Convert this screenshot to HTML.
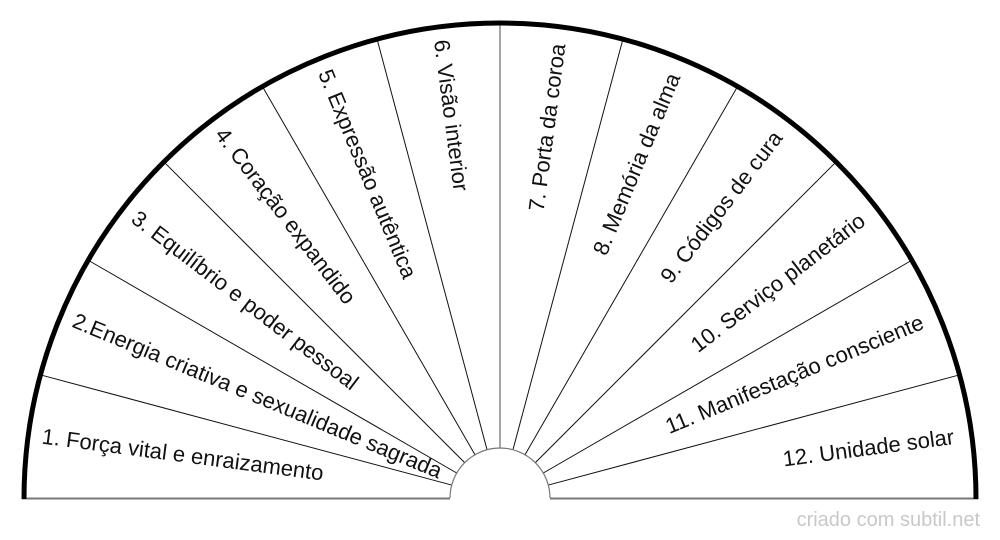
<!DOCTYPE html>
<html><head><meta charset="utf-8"><style>
html,body{margin:0;padding:0;background:#fff;}
svg{display:block;}
text{font-family:"Liberation Sans",sans-serif;font-size:22px;fill:#111;}
</style></head><body>
<svg width="1000" height="540" viewBox="0 0 1000 540" xmlns="http://www.w3.org/2000/svg">
<g id="g"></g>
<line x1="22" y1="498.5" x2="450" y2="498.5" stroke="#777" stroke-width="2"/>
<line x1="550" y1="498.5" x2="978" y2="498.5" stroke="#777" stroke-width="2"/>
<path d="M450,498 A50,50 0 0 1 550,498" fill="none" stroke="#777" stroke-width="1.2"/>
<line x1="500" y1="448" x2="500" y2="24" stroke="#888" stroke-width="1.5"/>
<path d="M24,499 A476,476 0 0 1 976,499" fill="none" stroke="#000" stroke-width="5"/>
<text x="980" y="526" text-anchor="end" style="fill:#c8c8c8;font-size:20px">criado com subtil.net</text>
</svg>
<script>
var g=document.getElementById('g'),cx=500,cy=498;
var labels=["1. Força vital e enraizamento","2.Energia criativa e sexualidade sagrada","3. Equilíbrio e poder pessoal","4. Coração expandido","5. Expressão autêntica","6. Visão interior","7. Porta da coroa","8. Memória da alma","9. Códigos de cura","10. Serviço planetário","11. Manifestação consciente","12. Unidade solar"];
var h='';
for(var k=1;k<12;k++){if(k==6)continue;var a=(180-k*15)*Math.PI/180;
h+='<line x1="'+(cx+50*Math.cos(a))+'" y1="'+(cy-50*Math.sin(a))+'" x2="'+(cx+474*Math.cos(a))+'" y2="'+(cy-474*Math.sin(a))+'" stroke="#111" stroke-width="1"/>';}
for(var i=0;i<12;i++){var t=180-(i+0.5)*15,a=t*Math.PI/180,r=(i<6?462:458);
var x=cx+r*Math.cos(a),y=cy-r*Math.sin(a);
if(i<6){h+='<text x="'+x+'" y="'+y+'" dominant-baseline="middle" transform="rotate('+(180-t)+' '+x+' '+y+')">'+labels[i]+'</text>';}
else{h+='<text x="'+x+'" y="'+y+'" text-anchor="end" dominant-baseline="middle" transform="rotate('+(-t)+' '+x+' '+y+')">'+labels[i]+'</text>';}}
g.innerHTML=h;
</script>
</body></html>
